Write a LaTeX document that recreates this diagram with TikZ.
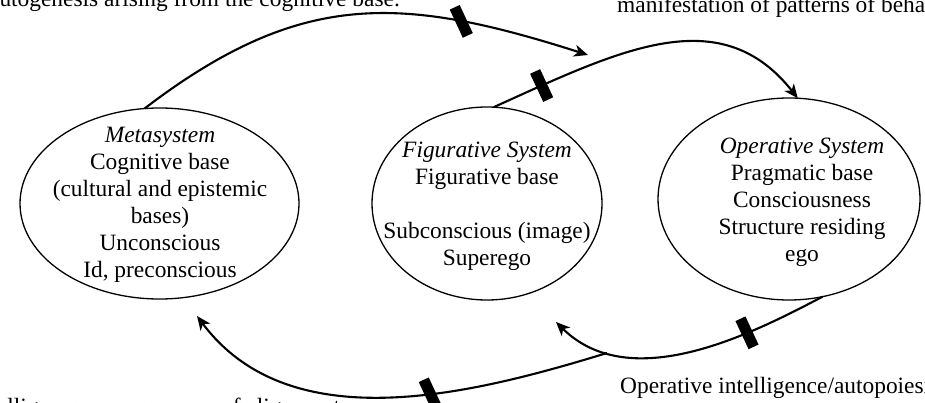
\documentclass[tikz,border=0pt]{standalone}
\usepackage{fontspec}
\setmainfont{Liberation Serif}
\usetikzlibrary{shapes.geometric,arrows.meta}
\begin{document}
\begin{tikzpicture}[x=1pt,y=-1pt,
  sys/.style={draw,ellipse,line width=1.3pt,inner sep=0pt,outer sep=0pt},
  txt/.style={align=center,inner sep=0pt,font=\fontsize{23.4}{27}\selectfont},
  lbl/.style={inner sep=0pt,font=\fontsize{23.4}{27}\selectfont},
  conn/.style={line width=2.1pt},
  arr/.style={-{Stealth[length=14pt,width=12pt,inset=4pt]}},
  marker/.style={fill=black,draw=none,minimum width=11pt,minimum height=31pt,inner sep=0pt,rotate=25}
]
\useasboundingbox (0,0) rectangle (925,403);

% systems
\node[sys,minimum width=279pt,minimum height=191pt] (meta) at (159.5,203.5) {};
\node[sys,minimum width=230pt,minimum height=193pt] (fig) at (487,203.5) {};
\node[sys,minimum width=262pt,minimum height=202pt] (op) at (789,199) {};

\node[txt] (metatext) at (160,205) {\textit{Metasystem}\\Cognitive base\\(cultural and epistemic\\bases)\\Unconscious\\Id, preconscious};
\node[txt] (figtext) at (487,206.4) {\textit{Figurative System}\\Figurative base\\[27pt]Subconscious (image)\\Superego};
\node[txt] (optext) at (802,202) {\textit{Operative System}\\Pragmatic base\\Consciousness\\Structure residing\\ego};

% free ends
\coordinate (tipA) at (588,55);
\coordinate (tipC) at (556,322);
\coordinate (startD) at (607,353);
\coordinate (tipD) at (197,316);

% connectors
\draw[conn,arr] (meta.99) .. controls (300,-10) and (400,-5) .. (tipA)
  node[marker,pos=0.75] (mA) {};
\draw[conn,arr] (fig.86) .. controls (620,50) and (720,0) .. (op.85)
  node[marker,pos=0.13] (mB) {};
\draw[conn,arr] (op.-71) .. controls (750,335) and (630,395) .. (tipC)
  node[marker,pos=0.3] (mC) {};
\draw[conn,arr] (startD) .. controls (470,395) and (290,440) .. (tipD)
  node[marker,pos=0.4] (mD) {};

% labels
\node[lbl,anchor=base east] (labTL) at (400,6.5) {autogenesis arising from the cognitive base.};
\node[lbl,anchor=base west] (labTR) at (617,13) {manifestation of patterns of behaviour};
\node[lbl,anchor=base west] (labBR) at (620,393) {Operative intelligence/autopoiesis};
\node[lbl,anchor=base west] (labBL) at (-130,414) {Figurative intelligence: as a measure of alignment};
\end{tikzpicture}
\end{document}
